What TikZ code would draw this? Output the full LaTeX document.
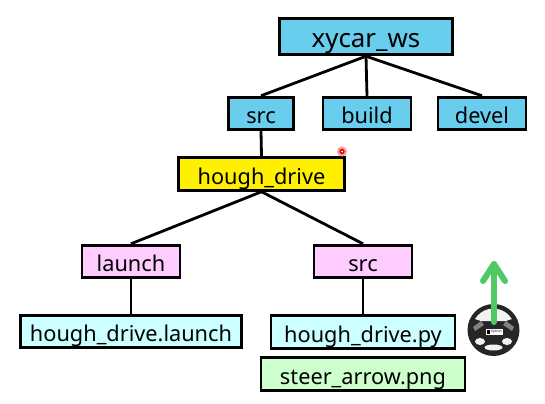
\documentclass[tikz,border=0pt]{standalone}
\usepackage{fontspec}
\setmainfont{Noto Sans}
\definecolor{wsblue}{HTML}{69CDEE}
\definecolor{driveyellow}{HTML}{FFF000}
\definecolor{launchpink}{HTML}{FFCCFF}
\definecolor{filecyan}{HTML}{CCFFFF}
\definecolor{pnggreen}{HTML}{CCFFCC}
\definecolor{arrowgreen}{HTML}{50C864}
\tikzset{
  folderbox/.style={draw=black,line width=2.1pt,inner sep=0pt,minimum height=24.5pt,text height=15pt,text depth=0pt,font=\fontsize{16.3}{18}\selectfont},
  treeline/.style={line width=2.1pt}
}
\begin{document}
\begin{tikzpicture}[x=0.75pt,y=-0.75pt]
  \useasboundingbox (0,0) rectangle (545,403);

  % folders
  \node[folderbox,fill=wsblue,minimum width=130pt,minimum height=27.5pt,text height=17pt,font=\fontsize{19.4}{20}\selectfont] (ws) at (366,36.5) {xycar\_ws};
  \node[folderbox,fill=wsblue,minimum width=49pt] (src) at (261,113.5) {src};
  \node[folderbox,fill=wsblue,minimum width=66pt] (build) at (367,113.5) {build};
  \node[folderbox,fill=wsblue,minimum width=66pt] (devel) at (482,113.5) {devel};
  \node[folderbox,fill=driveyellow,minimum width=125pt] (drive) at (261.5,174) {hough\_drive};
  \node[folderbox,fill=launchpink,minimum width=73.5pt] (launch) at (131,261.5) {launch};
  \node[folderbox,fill=launchpink,minimum width=73.5pt] (srctwo) at (363,261.5) {src};

  % files
  \node[folderbox,fill=filecyan,minimum width=166pt] (launchfile) at (131,331.5) {hough\_drive.launch};
  \node[folderbox,fill=filecyan,minimum width=138pt] (pyfile) at (363,332) {hough\_drive.py};
  \node[folderbox,fill=pnggreen,minimum width=153pt] (pngfile) at (363,374) {steer\_arrow.png};

  \foreach \child in {src,build,devel} {
    \draw[treeline] (ws.south) -- (\child.north);
  }
  \draw[treeline] (src.south) -- (drive.north);
  \foreach \child in {launch,srctwo} {
    \draw[treeline] (drive.south) -- (\child.north);
  }
  \draw[treeline] (launch.south) -- (launchfile.north);
  \draw[treeline] (srctwo.south) -- (pyfile.north);

  % red pointer
  \fill[red!40!white] (342,151.5) circle (5);
  \fill[red!85!black] (342,151.5) circle (2.6);
  \fill[white] (342,151.5) circle (1);

  % wheel
  \fill[black!85] (493.5,330) circle (26);
  \fill[black!5] (475,319) arc[start angle=-149,end angle=-31,radius=21.5] -- (506,321) -- (481,321) -- cycle;
  \fill[black!50] (473,327) -- (481,321) -- (484,325) -- (475,331) -- cycle;
  \fill[black!50] (514,327) -- (506,321) -- (503,325) -- (512,331) -- cycle;
  \fill[black!5] (480,341.5) ellipse (5 and 3.5);
  \fill[black!5] (507,341.5) ellipse (5 and 3.5);
  \fill[black!5] (493.5,347.5) ellipse (9 and 3);
  \fill[white] (485.5,329) rectangle (502.5,335);
  \fill[black] (486.5,330) rectangle (490,334);
  \node[inner sep=0pt,font=\fontsize{2.6}{3}\selectfont] (logo) at (496.5,332) {Xytron};

  % green arrow
  \draw[arrowgreen,line width=4.5pt,line cap=round,line join=round] (494,322) -- (494,264);
  \draw[arrowgreen,line width=4.5pt,line cap=round,line join=round] (483,281) -- (494,264) -- (505,281);
\end{tikzpicture}
\end{document}
